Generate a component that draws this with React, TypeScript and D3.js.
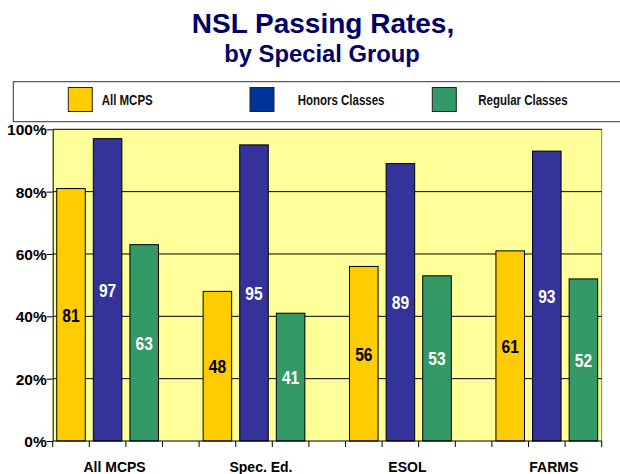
import { useEffect, useRef } from "react";
import * as d3 from "d3";

// chart data
const groups = ["All MCPS", "Spec. Ed.", "ESOL", "FARMS"];
const seriesNames = ["All MCPS", "Honors Classes", "Regular Classes"];
const allMcps = [81, 48, 56, 61];
const honors = [97, 95, 89, 93];
const regular = [63, 41, 53, 52];
const yTicks = [0, 20, 40, 60, 80, 100];

const barColors = ["#FFCC00", "#333399", "#339966"];
const legendColors = ["#FFCC00", "#003399", "#339966"];
const labelColors = ["#000000", "#ffffff", "#ffffff"];

const W = 620, H = 474;
const plot = { left: 52.7, right: 601.7, top: 129.3, bottom: 441 };
const sans = "'Liberation Sans', Arial, sans-serif";
// no Arial Narrow installed, squeeze Liberation Sans instead
const narrowScale = 0.82;

const App = () => {
  const ref = useRef<SVGSVGElement | null>(null);

  useEffect(() => {
    const svg = d3.select(ref.current);
    svg.selectAll("*").remove();

    const series = [allMcps, honors, regular];
    // each bar sits in its own slot, one empty slot between groups
    const slots = d3.range(groups.length * 4 - 1);
    const x = d3.scaleBand<number>().domain(slots)
      .range([plot.left, plot.right])
      .paddingInner(0.22).paddingOuter(0.11);
    const y = d3.scaleLinear().domain([0, 100]).range([plot.bottom, plot.top]);

    // title
    svg.append("text").attr("x", 323).attr("y", 32.7)
      .attr("text-anchor", "middle").attr("font-family", sans)
      .attr("font-weight", "bold").attr("font-size", 28).attr("fill", "#000066")
      .text("NSL Passing Rates,");
    svg.append("text").attr("x", 322).attr("y", 61.5)
      .attr("text-anchor", "middle").attr("font-family", sans)
      .attr("font-weight", "bold").attr("font-size", 23.8).attr("fill", "#000066")
      .text("by Special Group");

    // legend
    svg.append("rect").attr("x", 13.3).attr("y", 81.7).attr("width", 620).attr("height", 40)
      .attr("fill", "#fff").attr("stroke", "#333").attr("stroke-width", 1);
    const swatchX = [68.3, 250, 432.3];
    const textDx = [33.4, 47.7, 46];
    seriesNames.forEach((name, i) => {
      svg.append("rect").attr("x", swatchX[i]).attr("y", 87.5).attr("width", 24).attr("height", 24)
        .attr("fill", legendColors[i]).attr("stroke", "#222").attr("stroke-width", 1);
      svg.append("text")
        .attr("transform", `translate(${swatchX[i] + textDx[i]},104.5) scale(${narrowScale},1)`)
        .attr("font-family", sans).attr("font-weight", "bold").attr("font-size", 14)
        .attr("fill", "#111").text(name);
    });

    // plot background
    svg.append("rect").attr("x", plot.left).attr("y", plot.top)
      .attr("width", plot.right - plot.left).attr("height", plot.bottom - plot.top)
      .attr("fill", "#FFFF99");
    svg.append("line").attr("x1", plot.right).attr("x2", plot.right)
      .attr("y1", plot.top).attr("y2", plot.bottom).attr("stroke", "#808080");

    // gridlines
    svg.append("g").selectAll("line").data(yTicks.slice(1)).join("line")
      .attr("x1", plot.left).attr("x2", plot.right)
      .attr("y1", d => y(d)).attr("y2", d => y(d))
      .attr("stroke", "#000").attr("stroke-width", 1);

    // bars
    series.forEach((vals, s) => {
      const g = svg.append("g");
      g.selectAll("rect").data(vals).join("rect")
        .attr("x", (_, i) => x(i * 4 + s)!)
        .attr("y", d => y(d))
        .attr("width", x.bandwidth())
        .attr("height", d => y(0) - y(d))
        .attr("fill", barColors[s]).attr("stroke", "#000").attr("stroke-width", 1);
      g.selectAll("text").data(vals).join("text")
        .attr("transform", (d, i) =>
          `translate(${x(i * 4 + s)! + x.bandwidth() / 2},${y(d / 2)}) scale(${narrowScale},1)`)
        .attr("dy", "0.36em")
        .attr("text-anchor", "middle").attr("font-family", sans)
        .attr("font-weight", "bold").attr("font-size", 19)
        .attr("fill", labelColors[s]).text(d => d);
    });

    // y axis
    const yAxis = d3.axisLeft(y).tickValues(yTicks).tickSize(6).tickSizeOuter(0)
      .tickFormat(d => d + "%");
    const ya = svg.append("g").attr("transform", `translate(${plot.left},0)`).call(yAxis);
    ya.select(".domain").attr("stroke", "#000");
    ya.selectAll("text").attr("font-family", sans).attr("font-weight", "bold")
      .attr("font-size", 15.5).attr("fill", "#000").attr("x", -6).attr("dy", "0.36em");

    // x axis: tick at every slot boundary
    const bounds = d3.range(slots.length + 1).map(i => plot.left + x.step() * i);
    svg.append("line").attr("x1", plot.left).attr("x2", plot.right)
      .attr("y1", plot.bottom).attr("y2", plot.bottom).attr("stroke", "#000");
    svg.append("g").selectAll("line").data(bounds).join("line")
      .attr("x1", d => d).attr("x2", d => d)
      .attr("y1", plot.bottom).attr("y2", plot.bottom + 6).attr("stroke", "#000");
    svg.append("g").selectAll("text").data(groups).join("text")
      .attr("x", (_, i) => x(i * 4 + 1)! + x.bandwidth() / 2 + 7)
      .attr("y", 472)
      .attr("text-anchor", "middle").attr("font-family", sans)
      .attr("font-weight", "bold").attr("font-size", 14).attr("fill", "#000")
      .text(d => d);
  }, []);

  return (
    <svg ref={ref} width={W} height={H}
      style={{ position: "absolute", left: 0, top: 0, background: "#fff" }} />
  );
};

export default App;
